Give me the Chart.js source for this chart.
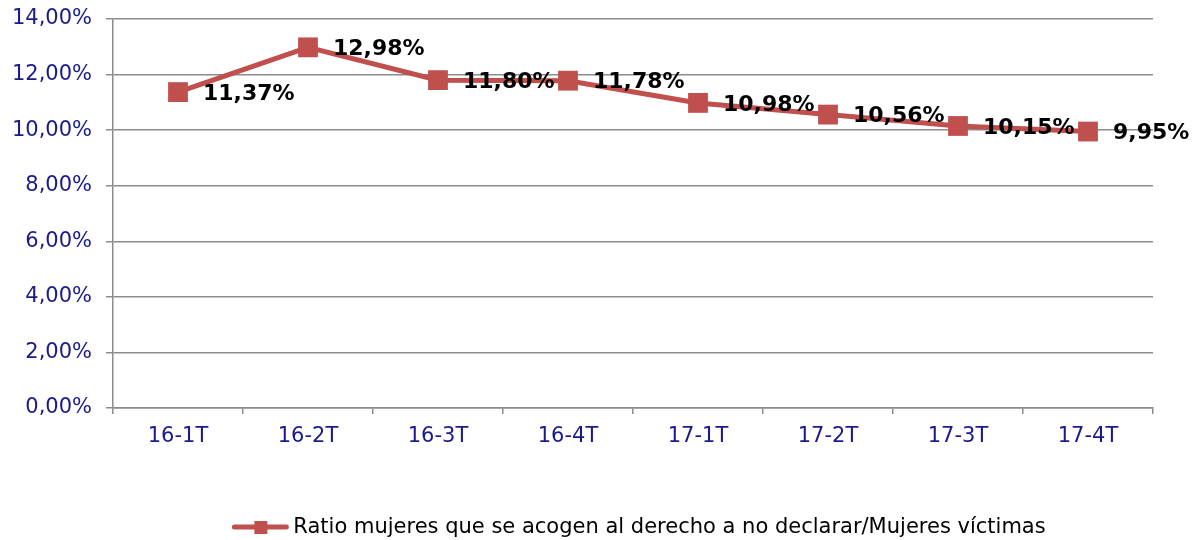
<!DOCTYPE html>
<html>
<head>
<meta charset="utf-8">
<script src="https://cdn.jsdelivr.net/npm/chart.js@4/dist/chart.umd.min.js"></script>
<style>
  html, body { margin: 0; padding: 0; background: #fff; }
  #wrap { width: 1203px; height: 540px; }
</style>
</head>
<body>
<div id="wrap"><canvas id="c" width="1203" height="540"></canvas></div>
<script>
// Trimestres y ratio (%)
const quarters = ['16-1T', '16-2T', '16-3T', '16-4T', '17-1T', '17-2T', '17-3T', '17-4T'];
const ratio = [11.37, 12.98, 11.80, 11.78, 10.98, 10.56, 10.15, 9.95];
const seriesName = 'Ratio mujeres que se acogen al derecho a no declarar/Mujeres víctimas';

const RED = '#C0504D';
const NAVY = '#1a1a8c';
const GRID = '#8c8c8c';
const FONT = "'DejaVu Sans', Verdana, sans-serif";

function pct(v) {
  return v.toFixed(2).replace('.', ',') + '%';
}

// Etiquetas de datos a la derecha de cada punto
const valueLabels = {
  id: 'valueLabels',
  afterDatasetsDraw(chart) {
    const ctx = chart.ctx;
    const meta = chart.getDatasetMeta(0);
    ctx.save();
    ctx.font = 'bold 22px ' + FONT;
    ctx.fillStyle = '#000';
    ctx.textAlign = 'left';
    ctx.textBaseline = 'middle';
    meta.data.forEach(function (pt, i) {
      ctx.fillText(pct(ratio[i]), pt.x + 25, pt.y + 2);
    });
    ctx.restore();
  }
};

// Leyenda inferior: línea con marcador cuadrado + texto
const bottomLegend = {
  id: 'bottomLegend',
  afterDraw(chart) {
    const ctx = chart.ctx;
    const y = 527;
    ctx.save();
    ctx.font = '21px ' + FONT;
    const tw = ctx.measureText(seriesName).width;
    const total = 56 + 5 + tw;
    const x0 = 639 - total / 2;
    ctx.strokeStyle = RED;
    ctx.lineWidth = 5;
    ctx.lineCap = 'round';
    ctx.beginPath();
    ctx.moveTo(x0 + 2, y);
    ctx.lineTo(x0 + 54, y);
    ctx.stroke();
    ctx.fillStyle = RED;
    ctx.fillRect(x0 + 28 - 6, y - 6, 13, 13);
    ctx.fillStyle = '#000';
    ctx.textAlign = 'left';
    ctx.textBaseline = 'middle';
    ctx.fillText(seriesName, x0 + 61, y + 1);
    ctx.restore();
  }
};

new Chart(document.getElementById('c'), {
  type: 'line',
  data: {
    labels: quarters,
    datasets: [{
      label: seriesName,
      data: ratio,
      borderColor: RED,
      backgroundColor: RED,
      borderWidth: 5,
      pointStyle: 'rect',
      pointRadius: 14,
      pointHoverRadius: 14,
      pointBackgroundColor: RED,
      pointBorderColor: RED,
      pointBorderWidth: 0,
      tension: 0,
      clip: false
    }]
  },
  options: {
    responsive: false,
    animation: false,
    layout: { padding: { top: 19, right: 50, left: 0, bottom: 0 } },
    plugins: {
      legend: { display: false },
      tooltip: { enabled: false }
    },
    scales: {
      x: {
        offset: true,
        grid: {
          offset: true,
          drawOnChartArea: false,
          drawTicks: true,
          tickLength: 6,
          color: GRID,
          lineWidth: 1.5
        },
        border: { color: GRID, width: 1.5 },
        ticks: {
          color: NAVY,
          font: { family: FONT, size: 21 },
          padding: 10,
          maxRotation: 0
        },
        afterFit(scale) { scale.height = 132; }
      },
      y: {
        min: 0,
        max: 14,
        grid: {
          color: GRID,
          lineWidth: 1.5,
          drawTicks: true,
          tickLength: 7
        },
        border: { color: GRID, width: 1.5 },
        ticks: {
          stepSize: 2,
          color: NAVY,
          font: { family: FONT, size: 21 },
          padding: 14,
          callback: function (v) { return pct(v); }
        },
        afterFit(scale) {
          scale.width = 113;
          scale.paddingTop = 0;
          scale.paddingBottom = 0;
        }
      }
    }
  },
  plugins: [valueLabels, bottomLegend]
});
</script>
</body>
</html>
